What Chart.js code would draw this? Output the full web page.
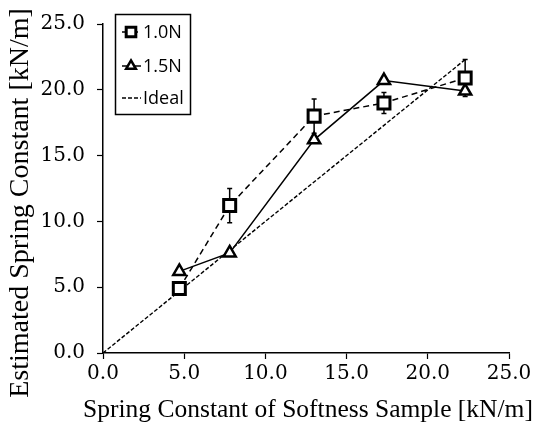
<!DOCTYPE html>
<html>
<head>
<meta charset="utf-8">
<script src="https://cdn.jsdelivr.net/npm/chart.js@4/dist/chart.umd.min.js"></script>
<style>
  html, body { margin: 0; padding: 0; background: #fff; }
</style>
</head>
<body>
<canvas id="chart" width="535" height="428"></canvas>
<script>
// DATA
const sampleK = [4.7, 7.8, 13.0, 17.3, 22.3];      // spring constant of sample [kN/m]
const est10N = [4.9, 11.2, 18.0, 19.0, 20.9];       // 1.0N estimate
const err10N = [0.3, 1.3, 1.3, 0.8, 1.4];           // 1.0N error bars
const est15N = [6.2, 7.6, 16.2, 20.7, 19.9];        // 1.5N estimate
const idealK = [0, 22.3];                           // ideal line ends
const axisTicks = [0, 5, 10, 15, 20, 25];

const xTitle = "Spring Constant of Softness Sample [kN/m]";
const yTitle = "Estimated Spring Constant [kN/m]";

const toPoints = (xs, ys) => xs.map((v, i) => ({ x: v, y: ys[i] }));

// error bars under the markers
const errorBars = {
  id: "errorBars",
  beforeDatasetsDraw(chart) {
    const { ctx, scales: { x, y } } = chart;
    ctx.save();
    ctx.strokeStyle = "#000";
    ctx.lineWidth = 1.5;
    sampleK.forEach((k, i) => {
      const px = x.getPixelForValue(k);
      const top = y.getPixelForValue(est10N[i] + err10N[i]);
      const bot = y.getPixelForValue(est10N[i] - err10N[i]);
      ctx.beginPath();
      ctx.moveTo(px, top);
      ctx.lineTo(px, bot);
      ctx.moveTo(px - 2.5, top);
      ctx.lineTo(px + 2.5, top);
      ctx.moveTo(px - 2.5, bot);
      ctx.lineTo(px + 2.5, bot);
      ctx.stroke();
    });
    ctx.restore();
  },
};

// legend box inside the plot, top left
function marker(ctx, style, cx, cy, r) {
  ctx.beginPath();
  if (style === "rect") {
    const s = r * Math.SQRT1_2;
    ctx.rect(cx - s, cy - s, 2 * s, 2 * s);
  } else if (style === "triangle") {
    for (let k = 0; k < 3; k++) {
      const a = (k * 2 * Math.PI) / 3;
      const px = cx + Math.sin(a) * r;
      const py = cy - Math.cos(a) * r;
      k === 0 ? ctx.moveTo(px, py) : ctx.lineTo(px, py);
    }
    ctx.closePath();
  }
  ctx.fill();
  ctx.stroke();
}

const boxLegend = {
  id: "boxLegend",
  afterDraw(chart) {
    const ctx = chart.ctx;
    ctx.save();
    ctx.strokeStyle = "#000";
    ctx.lineWidth = 1.5;
    ctx.strokeRect(115.5, 14.5, 75, 100);
    const rows = [32, 66, 98];
    chart.data.datasets.forEach((ds, i) => {
      const y = rows[i];
      ctx.beginPath();
      ctx.setLineDash(ds.borderDash || []);
      ctx.lineWidth = ds.borderWidth;
      ctx.moveTo(122, y);
      ctx.lineTo(141, y);
      ctx.stroke();
      ctx.setLineDash([]);
      if (ds.pointRadius > 0) {
        ctx.fillStyle = "#fff";
        ctx.lineWidth = ds.pointBorderWidth;
        marker(ctx, ds.pointStyle, 131, y, ds.pointRadius * 0.8);
      }
      ctx.fillStyle = "#000";
      ctx.font = "18px 'Open Sans'";
      ctx.textBaseline = "middle";
      ctx.fillText(ds.label, 143, y + 1);
    });
    ctx.restore();
  },
};

const axisTitles = {
  id: "axisTitles",
  afterDraw(chart) {
    const ctx = chart.ctx;
    ctx.save();
    ctx.fillStyle = "#000";
    ctx.textAlign = "center";
    ctx.textBaseline = "alphabetic";
    ctx.font = "25.5px 'Liberation Serif'";
    ctx.fillText(xTitle, 308, 417);
    ctx.translate(28, 203);
    ctx.rotate(-Math.PI / 2);
    ctx.font = "28px 'Liberation Serif'";
    ctx.fillText(yTitle, 0, 0);
    ctx.restore();
  },
};

const axisCommon = {
  type: "linear",
  min: 0,
  max: 25,
  afterBuildTicks: (s) => {
    s.ticks = axisTicks.map((v) => ({ value: v }));
  },
  grid: {
    display: true,
    drawOnChartArea: false,
    drawTicks: true,
    tickLength: 6,
    tickWidth: 1.2,
    color: "#000",
  },
  border: { display: true, color: "#000", width: 1.5 },
  ticks: {
    color: "#000",
    font: { family: "'DejaVu Serif'", size: 20 },
    callback: (v) => Number(v).toFixed(1),
  },
};

new Chart(document.getElementById("chart"), {
  type: "scatter",
  data: {
    datasets: [
      {
        label: "1.0N",
        data: toPoints(sampleK, est10N),
        showLine: true,
        borderColor: "#000",
        borderWidth: 1.5,
        borderDash: [6, 4],
        pointStyle: "rect",
        pointRadius: 8.5,
        pointBorderWidth: 3,
        pointBackgroundColor: "#fff",
        pointBorderColor: "#000",
      },
      {
        label: "1.5N",
        data: toPoints(sampleK, est15N),
        showLine: true,
        borderColor: "#000",
        borderWidth: 1.5,
        pointStyle: "triangle",
        pointRadius: 7,
        pointBorderWidth: 2.5,
        pointBackgroundColor: "#fff",
        pointBorderColor: "#000",
      },
      {
        label: "Ideal",
        data: toPoints(idealK, idealK),
        showLine: true,
        borderColor: "#000",
        borderWidth: 1.4,
        borderDash: [4, 2],
        pointRadius: 0,
      },
    ],
  },
  options: {
    responsive: false,
    animation: false,
    layout: { padding: { top: 11, right: 26, left: 0, bottom: 0 } },
    plugins: {
      legend: { display: false },
      tooltip: { enabled: false },
    },
    scales: {
      x: {
        ...axisCommon,
        position: "bottom",
        ticks: { ...axisCommon.ticks, padding: 3, maxRotation: 0 },
        afterFit: (s) => {
          s.height = 75;
        },
      },
      y: {
        ...axisCommon,
        position: "left",
        ticks: { ...axisCommon.ticks, padding: 12 },
        afterFit: (s) => {
          s.width = 103;
        },
      },
    },
  },
  plugins: [errorBars, boxLegend, axisTitles],
});
</script>
</body>
</html>
